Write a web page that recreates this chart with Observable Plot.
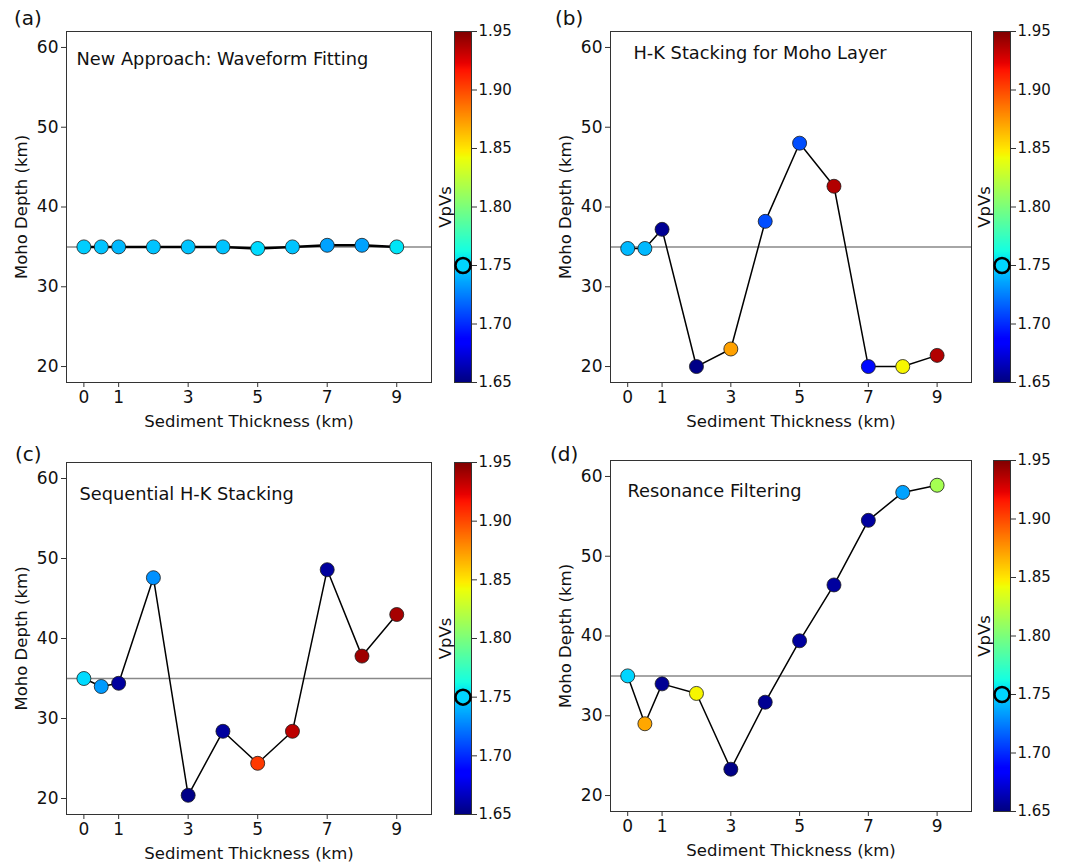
<!DOCTYPE html>
<html>
<head>
<meta charset="utf-8">
<script src="https://cdn.jsdelivr.net/npm/d3@7"></script>
<script src="https://cdn.jsdelivr.net/npm/@observablehq/plot@0.6"></script>
<style>
  body { margin: 0; background: #fff; font-family: "DejaVu Sans", sans-serif; }
  #root { position: relative; width: 1087px; height: 863px; overflow: hidden; }
  #root svg { position: absolute; }
  .letter { position: absolute; font-size: 20px; line-height: 24px; color: #111; font-family: "DejaVu Sans", sans-serif; }
</style>
</head>
<body>
<div id="root"></div>
<script>
// ---------------- data ----------------
const thickness = [0, 0.5, 1, 2, 3, 4, 5, 6, 7, 8, 9];
const xTicks = [0, 1, 3, 5, 7, 9];
const yTicks = [20, 30, 40, 50, 60];
const cbTicks = [1.65, 1.70, 1.75, 1.80, 1.85, 1.90, 1.95];
const referenceDepth = 35;
const referenceVpVs = 1.75;

const letters = ["(a)", "(b)", "(c)", "(d)"];
const titles = [
  "New Approach: Waveform Fitting",
  "H-K Stacking for Moho Layer",
  "Sequential H-K Stacking",
  "Resonance Filtering"
];
const xLabel = "Sediment Thickness (km)";
const yLabel = "Moho Depth (km)";
const cbLabel = "VpVs";

const depthA = [35, 35, 35, 35, 35, 35, 34.8, 35, 35.2, 35.2, 35];
const vpvsA  = [1.748, 1.745, 1.742, 1.745, 1.745, 1.745, 1.752, 1.745, 1.735, 1.735, 1.755];

const depthB = [34.8, 34.8, 37.2, 20, 22.2, 38.2, 48, 42.6, 20, 20, 21.4];
const vpvsB  = [1.742, 1.742, 1.655, 1.652, 1.872, 1.71, 1.71, 1.937, 1.69, 1.845, 1.937];

const depthC = [35, 34, 34.4, 47.6, 20.4, 28.4, 24.4, 28.4, 48.6, 37.8, 43];
const vpvsC  = [1.752, 1.733, 1.658, 1.73, 1.652, 1.658, 1.905, 1.934, 1.658, 1.942, 1.94];

const depthD = [35, 29, 34, 32.8, 23.3, 31.7, 39.4, 46.4, 54.5, 58, 58.9];
const vpvsD  = [1.75, 1.87, 1.655, 1.845, 1.652, 1.655, 1.658, 1.658, 1.658, 1.735, 1.815];

// ---------------- jet colormap (matplotlib definition) ----------------
const jetR = [[0, 0], [0.35, 0], [0.66, 1], [0.89, 1], [1, 0.5]];
const jetG = [[0, 0], [0.125, 0], [0.375, 1], [0.64, 1], [0.91, 0], [1, 0]];
const jetB = [[0, 0.5], [0.11, 1], [0.34, 1], [0.65, 0], [1, 0]];
function seg(pts, t) {
  for (let i = 1; i < pts.length; i++) {
    if (t <= pts[i][0]) {
      const [x0, y0] = pts[i - 1], [x1, y1] = pts[i];
      return y0 + (y1 - y0) * (t - x0) / (x1 - x0);
    }
  }
  return pts[pts.length - 1][1];
}
function jet(t) {
  t = Math.max(0, Math.min(1, t));
  const c = [seg(jetR, t), seg(jetG, t), seg(jetB, t)].map(v => Math.round(v * 255));
  return `rgb(${c[0]},${c[1]},${c[2]})`;
}
const colorScale = { type: "linear", domain: [1.65, 1.95], interpolate: jet };

// ---------------- layout ----------------
const panels = [
  { depth: depthA, vpvs: vpvsA, left: 0,   top: 0,   fl: 66,  ft: 31,  fr: 431, fb: 382, cbl: 454, cbt: 31,  cbb: 382, lw: 2.5, tdx: 10, tdy: 28, letter: [14, 6] },
  { depth: depthB, vpvs: vpvsB, left: 540, top: 0,   fl: 610, ft: 31,  fr: 971, fb: 382, cbl: 993, cbt: 31,  cbb: 382, lw: 1.5, tdx: 23, tdy: 22, letter: [555, 6] },
  { depth: depthC, vpvs: vpvsC, left: 0,   top: 430, fl: 66,  ft: 462, fr: 431, fb: 814, cbl: 454, cbt: 462, cbb: 814, lw: 1.5, tdx: 13, tdy: 32, letter: [15, 442] },
  { depth: depthD, vpvs: vpvsD, left: 540, top: 430, fl: 610, ft: 460, fr: 971, fb: 811, cbl: 993, cbt: 460, cbb: 811, lw: 1.5, tdx: 17, tdy: 31, letter: [550, 442] }
];

const root = document.getElementById("root");
const font = "DejaVu Sans, sans-serif";

panels.forEach((p, i) => {
  const data = thickness.map((x, j) => ({ x, depth: p.depth[j], vpvs: p.vpvs[j] }));
  const W = 440, H = 433;
  const chart = Plot.plot({
    width: W, height: H,
    marginLeft: p.fl - p.left,
    marginTop: p.ft - p.top,
    marginRight: (p.left + W) - p.fr,
    marginBottom: (p.top + H) - p.fb,
    x: { domain: [-0.5, 10] },
    y: { domain: [18, 62] },
    color: colorScale,
    style: { fontFamily: font, color: "#111", background: "transparent", overflow: "visible" },
    marks: [
      Plot.ruleY([referenceDepth], { stroke: "#888", strokeWidth: 1.5 }),
      Plot.line(data, { x: "x", y: "depth", stroke: "black", strokeWidth: p.lw }),
      Plot.dot(data, { x: "x", y: "depth", fill: "vpvs", r: 7, stroke: "#1a1a1a", strokeWidth: 0.8 }),
      Plot.frame({ stroke: "#333", strokeWidth: 1 }),
      Plot.axisX({ ticks: xTicks, tickSize: 5, tickPadding: 3, fontSize: 17, label: null, stroke: "#333" }),
      Plot.axisY({ ticks: yTicks, tickSize: 5, tickPadding: 3, fontSize: 17, label: null, stroke: "#333" }),
      Plot.text([titles[i]], { frameAnchor: "top-left", dx: p.tdx, dy: p.tdy, textAnchor: "start", lineAnchor: "middle", fontSize: 17.8, fill: "#111" }),
      Plot.text([yLabel], { frameAnchor: "left", dx: -45, rotate: -90, textAnchor: "middle", lineAnchor: "middle", fontSize: 16.5, fill: "#111" }),
      Plot.text([xLabel], { frameAnchor: "bottom", dy: 39, textAnchor: "middle", lineAnchor: "middle", fontSize: 16.5, fill: "#111" })
    ]
  });
  chart.style.left = p.left + "px";
  chart.style.top = p.top + "px";
  root.appendChild(chart);

  // colorbar
  const cbW = 17, cbML = 22, cbMR = 55;
  const cbH = H;
  const cbar = Plot.plot({
    width: cbML + cbW + cbMR, height: cbH,
    marginLeft: cbML, marginRight: cbMR,
    marginTop: p.cbt - p.top,
    marginBottom: (p.top + cbH) - p.cbb,
    x: { domain: [0, 1], axis: null },
    y: { domain: [1.65, 1.95] },
    color: colorScale,
    style: { fontFamily: font, color: "#111", background: "transparent", overflow: "visible" },
    marks: [
      Plot.raster({ fill: (x, y) => y, x1: 0, x2: 1, y1: 1.65, y2: 1.95, width: 1, height: 400, imageRendering: "auto" }),
      Plot.frame({ stroke: "#333", strokeWidth: 1 }),
      Plot.axisY({ anchor: "right", ticks: cbTicks, tickFormat: d3.format(".2f"), tickSize: 5, tickPadding: 2, fontSize: 15, label: null, stroke: "#333" }),
      Plot.dot([{ x: 0.5, v: referenceVpVs }], { x: "x", y: "v", fill: "v", r: 7.5, stroke: "black", strokeWidth: 2.5 }),
      Plot.text([cbLabel], { frameAnchor: "left", dx: -9, rotate: -90, textAnchor: "middle", lineAnchor: "middle", fontSize: 16.5, fill: "#111" })
    ]
  });
  cbar.style.left = (p.cbl - cbML) + "px";
  cbar.style.top = p.top + "px";
  root.appendChild(cbar);

  const lab = document.createElement("div");
  lab.className = "letter";
  lab.textContent = letters[i];
  lab.style.left = p.letter[0] + "px";
  lab.style.top = p.letter[1] + "px";
  root.appendChild(lab);
});
</script>
</body>
</html>
